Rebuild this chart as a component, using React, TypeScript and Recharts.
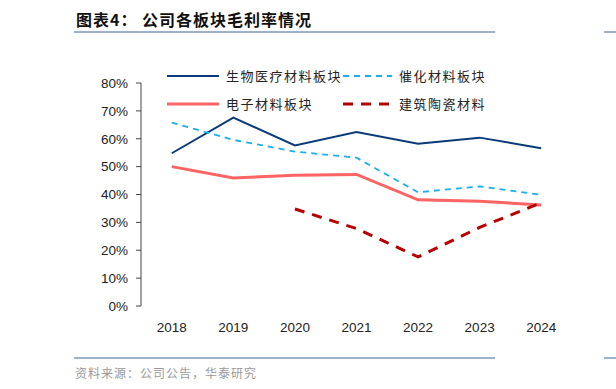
import { LineChart, Line, XAxis, YAxis } from "recharts";

const years = ["2018", "2019", "2020", "2021", "2022", "2023", "2024"];
const bioMedical = [54.8, 67.6, 57.6, 62.4, 58.2, 60.4, 56.6];
const catalyst = [65.8, 59.6, 55.4, 53.2, 40.8, 42.9, 39.9];
const electronic = [50.0, 45.9, 46.9, 47.2, 38.1, 37.6, 36.2];
const ceramics = [null, null, 34.8, 27.8, 17.6, 28.2, 37.0];
const yTicks = [0, 10, 20, 30, 40, 50, 60, 70, 80];

const series = [
	{ key: "bio", name: "生物医疗材料板块", color: "#0B3A78", width: 2, dash: undefined, sample: 52 },
	{ key: "cat", name: "催化材料板块", color: "#1AAFEF", width: 1.8, dash: "6 5", sample: 49 },
	{ key: "ele", name: "电子材料板块", color: "#FF6464", width: 3, dash: undefined, sample: 52 },
	{ key: "cer", name: "建筑陶瓷材料", color: "#B80000", width: 3, dash: "10 8", sample: 49 },
];

const data = years.map((y, i) => ({
	pos: i + 0.5,
	year: y,
	bio: bioMedical[i],
	cat: catalyst[i],
	ele: electronic[i],
	cer: ceramics[i],
}));

const cjk = '"Noto Sans CJK SC", "Noto Sans", sans-serif';
const latin = '"Liberation Sans", Arial, sans-serif';

const LegendBox = () => (
	<div
		style={{
			position: "absolute",
			left: 167,
			top: 66,
			display: "grid",
			gridTemplateColumns: "176px 190px",
			rowGap: 9,
			fontFamily: cjk,
			fontSize: 13,
			color: "#222",
			letterSpacing: 1.5,
			whiteSpace: "nowrap",
		}}
	>
		{series.map((s) => (
			<div key={s.key} style={{ display: "flex", alignItems: "center", height: 19 }}>
				<svg width={s.sample} height={6} style={{ marginRight: 7 }}>
					<line
						x1={0}
						x2={s.sample}
						y1={3}
						y2={3}
						stroke={s.color}
						strokeWidth={s.width}
						strokeDasharray={s.dash}
					/>
				</svg>
				<span>{s.name}</span>
			</div>
		))}
	</div>
);

export default function App() {
	return (
		<div style={{ position: "absolute", left: 0, top: 0, width: 616, height: 389, background: "#fff" }}>
			<div
				style={{
					position: "absolute",
					left: 76,
					top: 7,
					fontFamily: cjk,
					fontWeight: 700,
					fontSize: 16,
					letterSpacing: 1,
					color: "#111",
					whiteSpace: "nowrap",
				}}
			>
				图表4：&nbsp;公司各板块毛利率情况
			</div>
			<div style={{ position: "absolute", left: 74, top: 31, width: 421, height: 2, background: "#9DB1CB" }} />
			<div style={{ position: "absolute", left: 604, top: 31, width: 12, height: 2, background: "#9DB1CB" }} />
			<div style={{ position: "absolute", left: 74, top: 357, width: 421, height: 2, background: "#9DB1CB" }} />
			<div style={{ position: "absolute", left: 604, top: 357, width: 12, height: 2, background: "#9DB1CB" }} />
			<div
				style={{
					position: "absolute",
					left: 75,
					top: 364,
					fontFamily: cjk,
					fontSize: 12,
					color: "#999",
					letterSpacing: 1,
				}}
			>
				资料来源：公司公告，华泰研究
			</div>
			<LineChart width={616} height={389} data={data} margin={{ top: 83, right: 44, bottom: 53, left: 81 }}>
				<XAxis
					dataKey="pos"
					type="number"
					domain={[0, 7]}
					ticks={[0, 1, 2, 3, 4, 5, 6, 7]}
					tickFormatter={() => ""}
					tickSize={5}
					height={0}
					stroke="#444"
					allowDataOverflow
				/>
				<XAxis
					xAxisId="yr"
					dataKey="pos"
					type="number"
					domain={[0, 7]}
					ticks={[0.5, 1.5, 2.5, 3.5, 4.5, 5.5, 6.5]}
					tickFormatter={(v: number) => years[Math.floor(v)]}
					axisLine={false}
					tickLine={false}
					tickMargin={10}
					height={30}
					tick={{ fill: "#222", fontSize: 13.5, fontFamily: latin }}
				/>
				<YAxis
					domain={[0, 80]}
					ticks={yTicks}
					tickFormatter={(v: number) => `${v}%`}
					width={60}
					tickSize={5}
					tickMargin={8}
					stroke="#444"
					tick={{ fill: "#222", fontSize: 13.5, fontFamily: latin }}
				/>
				{series.map((s) => (
					<Line
						key={s.key}
						dataKey={s.key}
						name={s.name}
						stroke={s.color}
						strokeWidth={s.width}
						strokeDasharray={s.dash}
						dot={false}
						activeDot={false}
						isAnimationActive={false}
						connectNulls={false}
					/>
				))}
			</LineChart>
			<LegendBox />
		</div>
	);
}
